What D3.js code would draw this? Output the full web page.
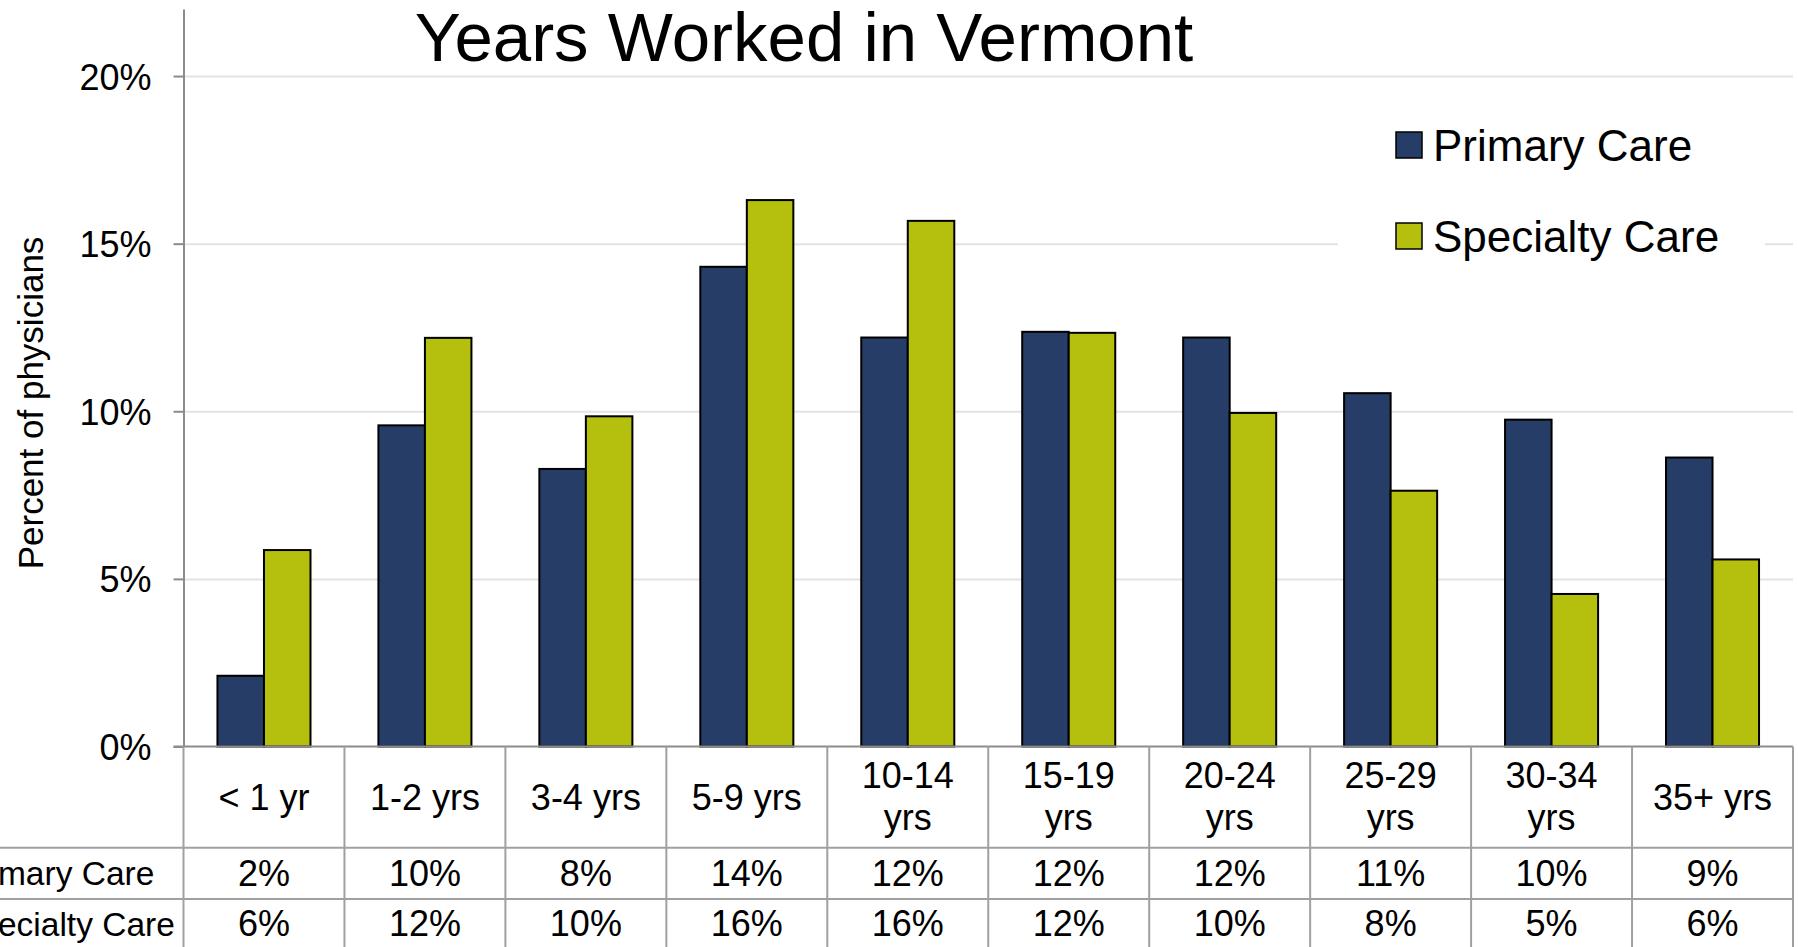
<!DOCTYPE html>
<html>
<head>
    <title>Years Worked in Vermont</title>
    <style>
        body { margin: 0; background: #fff; }
        svg { display: block; font-family: "Liberation Sans", Arial, sans-serif; }
    </style>
</head>
<body>
    <svg width="1798" height="947"></svg>
    <script src="https://d3js.org/d3.v7.min.js"></script>
    <script>
        // data
        var categories = ["< 1 yr", "1-2 yrs", "3-4 yrs", "5-9 yrs", "10-14 yrs",
                          "15-19 yrs", "20-24 yrs", "25-29 yrs", "30-34 yrs", "35+ yrs"];
        var seriesNames = ["Primary Care", "Specialty Care"];
        var primaryCare = [0.0211, 0.0958, 0.0828, 0.1431, 0.1220, 0.1237, 0.1220, 0.1054, 0.0975, 0.0862];
        var specialtyCare = [0.0586, 0.1219, 0.0985, 0.1630, 0.1568, 0.1234, 0.0995, 0.0763, 0.0455, 0.0558];
        var yTicks = [0, 0.05, 0.10, 0.15, 0.20];
        var colors = ["#263d68", "#b5bf0d"];

        var svg = d3.select("svg");

        // plot frame (note: "top" is taken by window.top, so plotTop)
        var plotLeft = 183.5, plotRight = 1793, plotTop = 9, plotBottom = 746.5;
        var rowLines = [847.7, 899];

        var x = d3.scaleBand().domain(categories).range([plotLeft, plotRight]);
        var xs = d3.scaleBand().domain(seriesNames).range([0, x.bandwidth()]).paddingOuter(0.73);
        var y = d3.scaleLinear().domain([0, 0.22]).range([plotBottom, plotTop]);
        var pct = d3.format(".0%");

        var rows = categories.map(function(c, i) {
            return { cat: c, values: [primaryCare[i], specialtyCare[i]] };
        });

        // gridlines
        svg.append("g")
            .attr("transform", "translate(" + plotLeft + ",0)")
            .call(d3.axisLeft(y).tickValues(yTicks.slice(1)).tickSize(-(plotRight - plotLeft)).tickFormat(""))
            .call(function(g) {
                g.select(".domain").remove();
                g.selectAll("line").attr("stroke", "#e3e3e3").attr("stroke-width", 2);
            });

        // legend background hides the gridline behind it
        svg.append("rect")
            .attr("x", 1338).attr("y", 100).attr("width", 427).attr("height", 175)
            .attr("fill", "#fff");

        // y axis
        svg.append("g")
            .attr("transform", "translate(" + plotLeft + ",0)")
            .call(d3.axisLeft(y).tickValues(yTicks).tickFormat(pct).tickSize(10).tickSizeOuter(0).tickPadding(22))
            .call(function(g) {
                g.select(".domain").attr("stroke", "#8c8c8c").attr("stroke-width", 2);
                g.selectAll(".tick line").attr("stroke", "#8c8c8c").attr("stroke-width", 2);
                g.selectAll(".tick text")
                    .attr("font-family", "Liberation Sans, Arial, sans-serif")
                    .attr("font-size", 36).attr("fill", "#000").attr("dy", "0.36em");
            });

        // bars
        var groups = svg.append("g").selectAll("g")
            .data(rows).enter().append("g")
            .attr("transform", function(d) { return "translate(" + x(d.cat) + ",0)"; });

        groups.selectAll("rect")
            .data(function(d) { return d.values.map(function(v, k) { return { name: seriesNames[k], v: v, k: k }; }); })
            .enter().append("rect")
            .attr("x", function(d) { return xs(d.name); })
            .attr("width", xs.bandwidth())
            .attr("y", function(d) { return y(d.v); })
            .attr("height", function(d) { return y(0) - y(d.v); })
            .attr("fill", function(d) { return colors[d.k]; })
            .attr("stroke", "#000").attr("stroke-width", 2);

        // x axis line / table top
        svg.append("line")
            .attr("x1", plotLeft - 10).attr("x2", plotRight).attr("y1", plotBottom).attr("y2", plotBottom)
            .attr("stroke", "#8c8c8c").attr("stroke-width", 2);

        // data table lines
        var table = svg.append("g").attr("stroke", "#a0a0a0").attr("stroke-width", 2);
        table.selectAll(".hl").data(rowLines).enter().append("line")
            .attr("x1", 0).attr("x2", plotRight)
            .attr("y1", function(d) { return d; }).attr("y2", function(d) { return d; });
        table.selectAll(".vl").data(categories.concat(["end"])).enter().append("line")
            .attr("x1", function(d, i) { return i < categories.length ? x(d) : plotRight; })
            .attr("x2", function(d, i) { return i < categories.length ? x(d) : plotRight; })
            .attr("y1", plotBottom).attr("y2", 947);

        // category labels, wrapped when too wide for a cell
        var catText = svg.append("g").selectAll("text")
            .data(categories).enter().append("text")
            .attr("text-anchor", "middle")
            .attr("font-size", 36)
            .attr("x", function(d) { return x(d) + x.bandwidth() / 2; })
            .attr("y", 810)
            .text(function(d) { return d; });
        catText.each(function(d) {
            var t = d3.select(this);
            if (this.getComputedTextLength() > x.bandwidth() - 18) {
                var parts = d.split(" ");
                var cx = x(d) + x.bandwidth() / 2;
                t.text(null).attr("y", null);
                t.append("tspan").attr("x", cx).attr("y", 788).text(parts[0]);
                t.append("tspan").attr("x", cx).attr("y", 830).text(parts.slice(1).join(" "));
            }
        });

        // table values; row headers start off the left edge, as in the source
        var baselines = [885.5, 936];
        [primaryCare, specialtyCare].forEach(function(vals, k) {
            svg.append("g").selectAll("text")
                .data(vals).enter().append("text")
                .attr("text-anchor", "middle")
                .attr("font-size", 36)
                .attr("x", function(d, i) { return x(categories[i]) + x.bandwidth() / 2; })
                .attr("y", baselines[k])
                .text(function(d) { return pct(d); });
            svg.append("text")
                .attr("x", -43).attr("y", baselines[k] - 0.5)
                .attr("font-size", 33.5)
                .text(seriesNames[k]);
        });

        // axis title
        svg.append("text")
            .attr("transform", "translate(43,403) rotate(-90)")
            .attr("text-anchor", "middle")
            .attr("font-size", 35)
            .text("Percent of physicians");

        // chart title
        svg.append("text")
            .attr("x", 804).attr("y", 61)
            .attr("text-anchor", "middle")
            .attr("font-size", 69)
            .text("Years Worked in Vermont");

        // legend
        var legend = svg.append("g").selectAll("g")
            .data(seriesNames).enter().append("g")
            .attr("transform", function(d, i) { return "translate(1396," + (132 + i * 91) + ")"; });
        legend.append("rect")
            .attr("width", 26).attr("height", 26)
            .attr("fill", function(d, i) { return colors[i]; })
            .attr("stroke", "#000").attr("stroke-width", 1.5);
        legend.append("text")
            .attr("x", 37).attr("y", 28.5)
            .attr("font-size", 44)
            .text(function(d) { return d; });
    </script>
</body>
</html>
